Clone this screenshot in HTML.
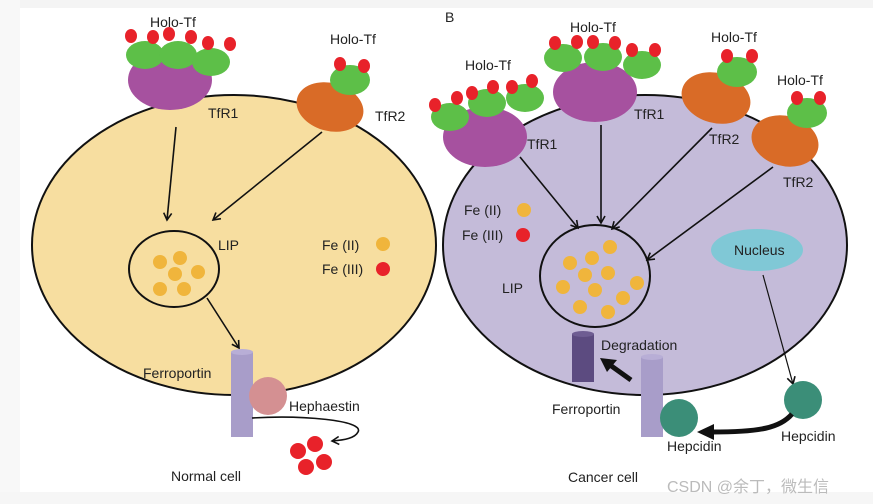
<!DOCTYPE html>
<html><head><meta charset="utf-8"><style>
html,body{margin:0;padding:0;background:#fff;}
svg{display:block;}
text{font-family:"Liberation Sans",Arial,sans-serif;font-size:14px;fill:#222;}
</style></head><body>
<svg width="873" height="504" viewBox="0 0 873 504" xmlns="http://www.w3.org/2000/svg">
<defs>
<marker id="a" markerWidth="10" markerHeight="10" refX="8" refY="5" orient="auto" markerUnits="userSpaceOnUse"><path d="M1,1 L8,5 L1,9" fill="none" stroke="#111" stroke-width="1.6"/></marker>
<marker id="b" markerWidth="8" markerHeight="8" refX="4" refY="4" orient="auto"><path d="M0,0 L6,4 L0,8 Z" fill="#111"/></marker>
</defs>
<rect x="0" y="0" width="873" height="8" fill="#f4f4f4"/>
<rect x="0" y="0" width="20" height="504" fill="#f8f8f8"/>
<rect x="0" y="492" width="873" height="12" fill="#f6f6f6"/>

<!-- LEFT CELL -->
<ellipse cx="234" cy="245" rx="202" ry="150" fill="#f7dea0" stroke="#111" stroke-width="2"/>
<!-- TfR1 left -->
<ellipse cx="170" cy="80" rx="42" ry="30" fill="#a6519f"/>
<ellipse cx="145" cy="55" rx="19" ry="14" fill="#5dbf48"/>
<ellipse cx="178" cy="55" rx="19" ry="14" fill="#5dbf48"/>
<ellipse cx="211" cy="62" rx="19" ry="14" fill="#5dbf48"/>
<g fill="#e8222a"><ellipse cx="131" cy="36" rx="6" ry="7"/><ellipse cx="153" cy="37" rx="6" ry="7"/><ellipse cx="169" cy="34" rx="6" ry="7"/><ellipse cx="191" cy="37" rx="6" ry="7"/><ellipse cx="208" cy="43" rx="6" ry="7"/><ellipse cx="230" cy="44" rx="6" ry="7"/></g>
<text x="150" y="27">Holo-Tf</text>
<text x="208" y="118">TfR1</text>
<!-- TfR2 left -->
<ellipse cx="330" cy="107" rx="34" ry="24" transform="rotate(15 330 107)" fill="#d96b27"/>
<ellipse cx="350" cy="80" rx="20" ry="15" fill="#5dbf48"/>
<g fill="#e8222a"><ellipse cx="340" cy="64" rx="6" ry="7"/><ellipse cx="364" cy="66" rx="6" ry="7"/></g>
<text x="330" y="44">Holo-Tf</text>
<text x="375" y="121">TfR2</text>
<line x1="176" y1="127" x2="167" y2="220" stroke="#111" stroke-width="1.6" marker-end="url(#a)"/>
<line x1="322" y1="132" x2="213" y2="220" stroke="#111" stroke-width="1.6" marker-end="url(#a)"/>
<ellipse cx="174" cy="269" rx="45" ry="38" fill="none" stroke="#111" stroke-width="2"/>
<g fill="#f0b53c"><circle cx="160" cy="262" r="7"/><circle cx="180" cy="258" r="7"/><circle cx="175" cy="274" r="7"/><circle cx="198" cy="272" r="7"/><circle cx="160" cy="289" r="7"/><circle cx="184" cy="289" r="7"/></g>
<text x="218" y="250">LIP</text>
<text x="322" y="250">Fe (II)</text><circle cx="383" cy="244" r="7" fill="#f0b53c"/>
<text x="322" y="274">Fe (III)</text><circle cx="383" cy="269" r="7" fill="#e8222a"/>
<line x1="207" y1="298" x2="239" y2="348" stroke="#111" stroke-width="1.6" marker-end="url(#a)"/>
<rect x="231" y="352" width="22" height="85" fill="#a89dc9"/>
<ellipse cx="242" cy="352" rx="11" ry="3" fill="#b8aed6"/>
<text x="143" y="378">Ferroportin</text>
<circle cx="268" cy="396" r="19" fill="#d49092"/>
<text x="289" y="411">Hephaestin</text>
<path d="M252,418 C300,415 365,420 358,432 C355,438 345,440 332,441" fill="none" stroke="#111" stroke-width="1.6" marker-end="url(#a)"/>
<g fill="#e8222a"><circle cx="298" cy="451" r="8"/><circle cx="315" cy="444" r="8"/><circle cx="306" cy="467" r="8"/><circle cx="324" cy="462" r="8"/></g>
<text x="171" y="481">Normal cell</text>

<!-- RIGHT CELL -->
<text x="445" y="22">B</text>
<ellipse cx="645" cy="245" rx="202" ry="150" fill="#c4bbd9" stroke="#111" stroke-width="2"/>
<!-- TfR1 left -->
<ellipse cx="485" cy="137" rx="42" ry="30" fill="#a6519f"/>
<ellipse cx="450" cy="117" rx="19" ry="14" fill="#5dbf48"/>
<ellipse cx="487" cy="103" rx="19" ry="14" fill="#5dbf48"/>
<ellipse cx="525" cy="98" rx="19" ry="14" fill="#5dbf48"/>
<g fill="#e8222a"><ellipse cx="435" cy="105" rx="6" ry="7"/><ellipse cx="457" cy="98" rx="6" ry="7"/><ellipse cx="472" cy="93" rx="6" ry="7"/><ellipse cx="493" cy="87" rx="6" ry="7"/><ellipse cx="512" cy="87" rx="6" ry="7"/><ellipse cx="532" cy="81" rx="6" ry="7"/></g>
<text x="465" y="70">Holo-Tf</text>
<text x="527" y="149">TfR1</text>
<!-- TfR1 center -->
<ellipse cx="595" cy="92" rx="42" ry="30" fill="#a6519f"/>
<ellipse cx="563" cy="58" rx="19" ry="14" fill="#5dbf48"/>
<ellipse cx="603" cy="57" rx="19" ry="14" fill="#5dbf48"/>
<ellipse cx="642" cy="65" rx="19" ry="14" fill="#5dbf48"/>
<g fill="#e8222a"><ellipse cx="555" cy="43" rx="6" ry="7"/><ellipse cx="577" cy="42" rx="6" ry="7"/><ellipse cx="593" cy="42" rx="6" ry="7"/><ellipse cx="615" cy="43" rx="6" ry="7"/><ellipse cx="632" cy="50" rx="6" ry="7"/><ellipse cx="655" cy="50" rx="6" ry="7"/></g>
<text x="570" y="32">Holo-Tf</text>
<text x="634" y="119">TfR1</text>
<!-- TfR2 middle -->
<ellipse cx="716" cy="98" rx="35" ry="25" transform="rotate(15 716 98)" fill="#d96b27"/>
<ellipse cx="737" cy="72" rx="20" ry="15" fill="#5dbf48"/>
<g fill="#e8222a"><ellipse cx="727" cy="56" rx="6" ry="7"/><ellipse cx="752" cy="56" rx="6" ry="7"/></g>
<text x="711" y="42">Holo-Tf</text>
<text x="709" y="144">TfR2</text>
<!-- TfR2 right -->
<ellipse cx="785" cy="141" rx="34" ry="25" transform="rotate(15 785 141)" fill="#d96b27"/>
<ellipse cx="807" cy="113" rx="20" ry="15" fill="#5dbf48"/>
<g fill="#e8222a"><ellipse cx="797" cy="98" rx="6" ry="7"/><ellipse cx="820" cy="98" rx="6" ry="7"/></g>
<text x="777" y="85">Holo-Tf</text>
<text x="783" y="187">TfR2</text>
<line x1="520" y1="157" x2="578" y2="228" stroke="#111" stroke-width="1.6" marker-end="url(#a)"/>
<line x1="601" y1="125" x2="601" y2="223" stroke="#111" stroke-width="1.6" marker-end="url(#a)"/>
<line x1="712" y1="128" x2="612" y2="229" stroke="#111" stroke-width="1.6" marker-end="url(#a)"/>
<line x1="773" y1="167" x2="647" y2="260" stroke="#111" stroke-width="1.6" marker-end="url(#a)"/>
<text x="464" y="215">Fe (II)</text><circle cx="524" cy="210" r="7" fill="#f0b53c"/>
<text x="462" y="240">Fe (III)</text><circle cx="523" cy="235" r="7" fill="#e8222a"/>
<ellipse cx="595" cy="276" rx="55" ry="51" fill="none" stroke="#111" stroke-width="2"/>
<g fill="#f0b53c"><circle cx="610" cy="247" r="7"/><circle cx="570" cy="263" r="7"/><circle cx="592" cy="258" r="7"/><circle cx="585" cy="275" r="7"/><circle cx="608" cy="273" r="7"/><circle cx="637" cy="283" r="7"/><circle cx="563" cy="287" r="7"/><circle cx="595" cy="290" r="7"/><circle cx="623" cy="298" r="7"/><circle cx="580" cy="307" r="7"/><circle cx="608" cy="312" r="7"/></g>
<text x="502" y="293">LIP</text>
<ellipse cx="757" cy="250" rx="46" ry="21" fill="#80c8d6"/>
<text x="734" y="255">Nucleus</text>
<line x1="763" y1="275" x2="793" y2="384" stroke="#111" stroke-width="1.2" marker-end="url(#a)"/>
<rect x="572" y="334" width="22" height="48" fill="#5c4b80"/>
<ellipse cx="583" cy="334" rx="11" ry="3" fill="#6e5d92"/>
<text x="601" y="350">Degradation</text>
<line x1="631" y1="380" x2="610" y2="365" stroke="#111" stroke-width="5"/>
<path d="M600,358 L617,360 L607,372 Z" fill="#111"/>
<rect x="641" y="357" width="22" height="80" fill="#a89dc9"/>
<ellipse cx="652" cy="357" rx="11" ry="3" fill="#b8aed6"/>
<text x="552" y="414">Ferroportin</text>
<circle cx="679" cy="418" r="19" fill="#3b8e78"/>
<circle cx="803" cy="400" r="19" fill="#3b8e78"/>
<text x="667" y="451">Hepcidin</text>
<text x="781" y="441">Hepcidin</text>
<path d="M792,414 C780,428 760,432 712,432" fill="none" stroke="#111" stroke-width="5"/>
<path d="M697,432 L714,424 L714,440 Z" fill="#111"/>
<text x="568" y="482">Cancer cell</text>
<text x="667" y="492" style="font-size:16px;fill:#bbb;font-family:'Liberation Sans','Noto Sans CJK SC',sans-serif">CSDN @余丁，微生信</text>
</svg>
</body></html>
